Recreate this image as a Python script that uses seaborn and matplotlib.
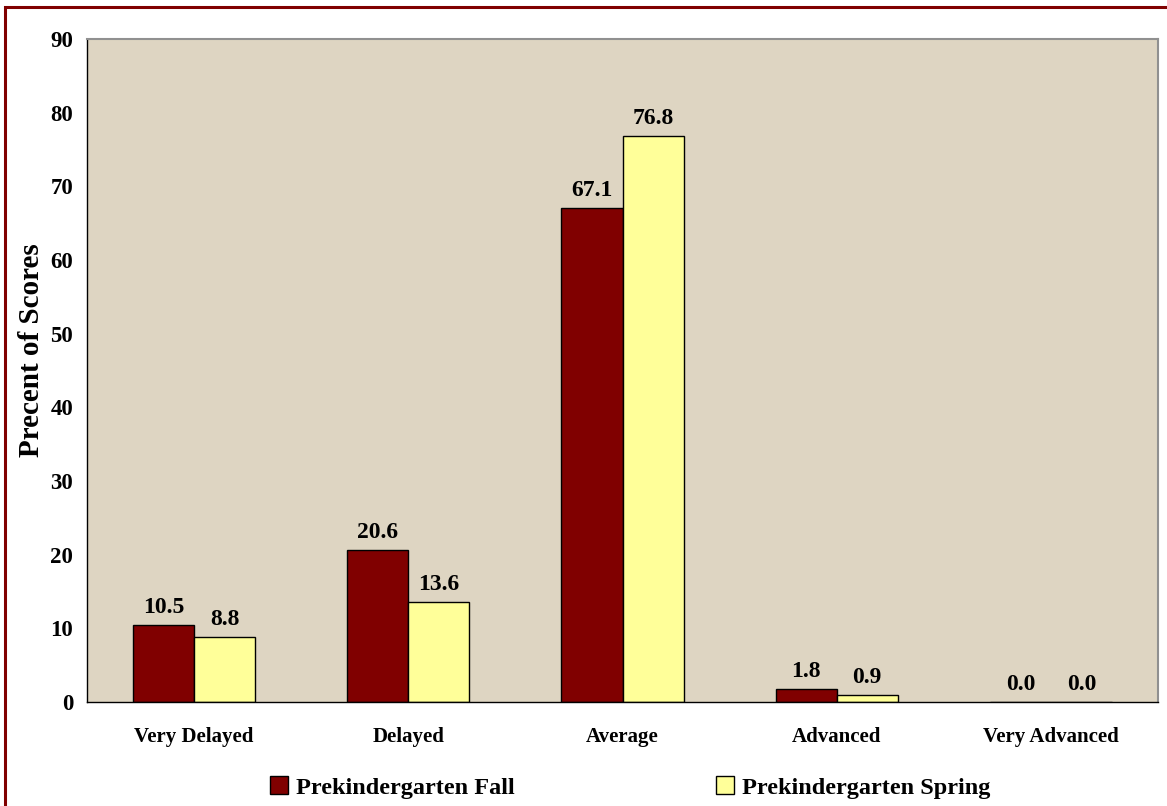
import numpy as np
import pandas as pd
import matplotlib
matplotlib.use("Agg")
import matplotlib.pyplot as plt
import seaborn as sns
from matplotlib.patches import Rectangle

categories = ["Very Delayed", "Delayed", "Average", "Advanced", "Very Advanced"]
fall = [10.5, 20.6, 67.1, 1.8, 0.0]
spring = [8.8, 13.6, 76.8, 0.9, 0.0]
series = ["Prekindergarten Fall", "Prekindergarten Spring"]
colors = ["#800000", "#FFFF99"]
yticks = [0, 10, 20, 30, 40, 50, 60, 70, 80, 90]

df = pd.DataFrame({
    "category": categories * 2,
    "series": [series[0]] * len(categories) + [series[1]] * len(categories),
    "value": fall + spring,
})

sns.set_style("white")
plt.rcParams["font.family"] = ["Liberation Serif", "DejaVu Serif"]
plt.rcParams["font.weight"] = "bold"
for key in ["text.color", "axes.labelcolor", "xtick.color", "ytick.color"]:
    plt.rcParams[key] = "black"

fig = plt.figure(figsize=(11.67, 8.06), dpi=100)
ax = fig.add_axes([87 / 1167, 1 - 702 / 806, (1158 - 87) / 1167, (702 - 39) / 806])

sns.barplot(data=df, x="category", y="value", hue="series", palette=colors,
            order=categories, hue_order=series, width=0.57, gap=0,
            edgecolor="black", linewidth=1, saturation=1, ax=ax)

ax.set_facecolor("#DED5C2")
ax.set_ylim(0, 90)
ax.set_xlim(-0.5, len(categories) - 0.5)
ax.set_yticks(yticks)
ax.set_yticklabels([str(t) for t in yticks], fontsize=16.5, fontweight="bold")
ax.set_xticklabels(categories, fontsize=15, fontweight="bold")
ax.set_xticks(np.arange(len(categories) + 1) - 0.5, minor=True)
ax.tick_params(axis="x", which="major", length=0, pad=18)
ax.tick_params(axis="x", which="minor", length=8, width=1, color="black", direction="out")
ax.tick_params(axis="y", length=6, width=1, color="black", direction="out", pad=4)
ax.set_xlabel("")
ax.set_ylabel("Precent of Scores", fontsize=21, fontweight="bold")
ax.yaxis.set_label_coords(-0.039, 0.53)

for side in ["left", "bottom"]:
    ax.spines[side].set_color("black")
    ax.spines[side].set_linewidth(1)
for side in ["top", "right"]:
    ax.spines[side].set_color("#909090")
    ax.spines[side].set_linewidth(1.5)

for cont in ax.containers:
    ax.bar_label(cont, fmt="%.1f", padding=5, fontsize=17, fontweight="bold")

handles, labels = ax.get_legend_handles_labels()
ax.get_legend().remove()
leg = fig.legend(handles, labels, loc="lower center", bbox_to_anchor=(0.54, -0.018),
                 ncol=2, frameon=False, prop={"weight": "bold", "size": 17.5},
                 handlelength=0.75, handleheight=0.75, handletextpad=0.3,
                 columnspacing=8.3)

fig.patches.append(Rectangle((5 / 1167, -0.05), 1.1, 1 - 7 / 806 + 0.05,
                             transform=fig.transFigure, fill=False,
                             edgecolor="#800000", linewidth=2.2, zorder=10))

fig.savefig("out.png", dpi=100)
